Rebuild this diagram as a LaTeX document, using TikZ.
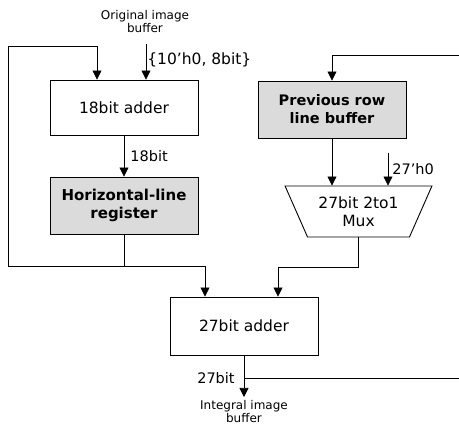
\documentclass[tikz,border=0pt]{standalone}
\usepackage{fontspec}
\setmainfont{DejaVu Sans}
\usetikzlibrary{arrows.meta, positioning, calc, shapes.geometric}

\begin{document}
\begin{tikzpicture}[x=1pt, y=-1pt, font=\fontsize{15.5}{18}\selectfont,
    block/.style={draw, line width=0.9pt, minimum width=148pt, align=center, inner sep=0pt},
    shaded/.style={block, fill=black!14, font=\bfseries\fontsize{15}{18}\selectfont},
    arr/.style={-{Triangle[length=9pt, width=9pt]}, line width=0.7pt},
    wire/.style={line width=0.7pt},
    small/.style={font=\fontsize{12}{13}\selectfont, align=center, inner sep=1pt},
    bits/.style={font=\fontsize{14.5}{17}\selectfont, inner sep=1pt}]
    \useasboundingbox (0,0) rectangle (459,425);

    % Left: 18bit adder feeding the register
    \node[block, minimum height=55pt] (add18) at (124,107.5) {18bit adder};
    \node[shaded, minimum height=57pt] (hreg) at (124,205.5) {Horizontal-line\\register};
    \draw[arr] (add18) -- node[bits, right=5pt]{18bit} (hreg);

    % Input from the original image
    \node[small] (obuf) at (145,21.5) {Original image\\buffer};
    \coordinate (oin) at (146,44);
    \draw[arr] (oin) -- node[right, inner sep=1pt, yshift=2pt]{\{10'h0, 8bit\}} (oin |- add18.north);

    % Right: previous row buffer and mux
    \node[shaded, minimum height=57pt, font=\bfseries\fontsize{14.5}{18}\selectfont] (prev) at (332,109.5) {Previous row\\line buffer};
    \node[draw, line width=0.9pt, trapezium, shape border rotate=180, trapezium stretches=true, trapezium angle=59.5, minimum width=147pt, minimum height=51pt, align=center, inner sep=0pt] (mux) at (358.5,211.5) {27bit 2to1\\Mux};
    \draw[arr] (prev.south) -- (prev.south |- mux.north);
    \coordinate (zin) at (388,153);
    \draw[arr] (zin) -- node[bits, right=3pt]{27'h0} (zin |- mux.north);

    % Bottom: 27bit adder
    \node[block, minimum height=58pt] (add27) at (244,326) {27bit adder};
    \coordinate (oend) at (244,397);
    \node[small, below=2pt of oend] (ibuf) {Integral image\\buffer};
    \draw[arr] (add27.south) -- (oend);

    % Feedback paths
    \coordinate (lc) at (8,266);
    \coordinate (fbl) at (8,46);
    \coordinate (fbr) at (459,378);
    \coordinate (fbt) at (459,55);
    \draw[wire] (hreg.south) -- (hreg.south |- lc);
    \draw[arr] (lc) -- (fbl) -| ([xshift=-27pt]add18.north);
    \draw[arr] (lc) -| ([xshift=-39pt]add27.north);
    \draw[arr] (mux.south) -- ++(0,30) -| ([xshift=34pt]add27.north);
    \draw[wire] (add27.south |- fbr) node[bits, left=8pt]{27bit} -- (fbr);
    \draw[arr] (fbt) -| (prev.north);
\end{tikzpicture}
\end{document}
